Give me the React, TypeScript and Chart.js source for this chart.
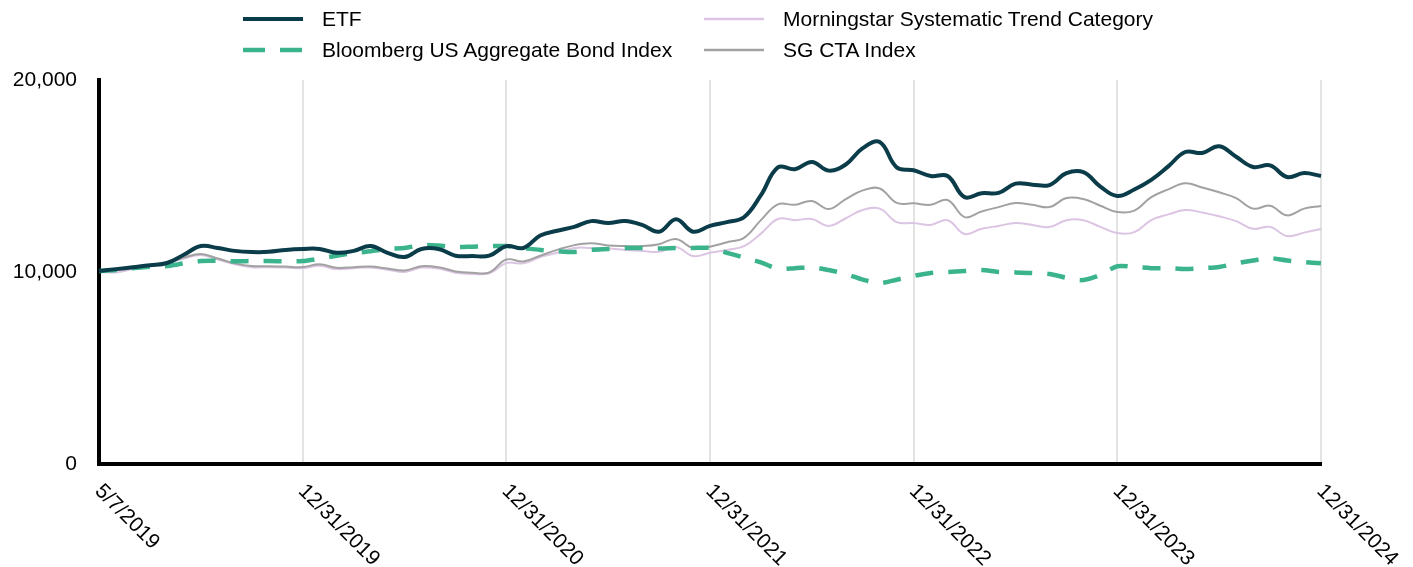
import React, { useEffect, useRef } from 'react';
import { Chart, registerables } from 'chart.js';

Chart.register(...registerables);

const FONT = '"Liberation Sans", Arial, Helvetica, sans-serif';

// Axis tick labels (one every 12 periods)
const tickLabels = ['5/7/2019', '12/31/2019', '12/31/2020', '12/31/2021', '12/31/2022', '12/31/2023', '12/31/2024'];
const PERIODS_PER_TICK = 12;

// Series values (growth of $10,000)
const etfValues = [
  10050, 10150, 10250, 10350, 10470, 10900, 11350, 11250, 11100, 11040, 11050, 11150,
  11200, 11200, 11000, 11100, 11350, 11000, 10780, 11200, 11200, 10850, 10830, 10850,
  11350, 11250, 11900, 12150, 12350, 12650, 12550, 12650, 12450, 12100, 12750, 12100,
  12400, 12600, 12850, 14000, 15450, 15350, 15730, 15280, 15600, 16450, 16770, 15450,
  15300, 15000, 15000, 13900, 14100, 14120, 14600, 14550, 14530, 15150, 15200, 14450,
  13960, 14300, 14800, 15500, 16250, 16200, 16550, 16000, 15470, 15550, 14950, 15150,
  15000,
];

const bondValues = [
  10050, 10100, 10200, 10280, 10310, 10450, 10570, 10580, 10560, 10570, 10570, 10560,
  10570, 10700, 10850, 10980, 11080, 11200, 11250, 11400, 11380, 11300, 11320, 11350,
  11350, 11250, 11150, 11080, 11040, 11150, 11200, 11250, 11250, 11230, 11250, 11250,
  11250, 11000, 10750, 10500, 10170, 10200, 10250, 10100, 9900, 9600, 9420, 9600,
  9800, 9950, 10000, 10050, 10100, 10000, 9980, 9950, 9900, 9700, 9580, 9850,
  10300, 10260, 10200, 10200, 10150, 10200, 10260, 10450, 10600, 10720, 10600, 10520,
  10450,
];

const morningstarValues = [
  10000, 9980, 10150, 10300, 10450, 10700, 10880, 10650, 10400, 10250, 10250, 10230,
  10200, 10320, 10150, 10200, 10230, 10120, 10000, 10230, 10180, 9960, 9900, 9930,
  10470, 10450, 10780, 11000, 11250, 11250, 11220, 11150, 11100, 11050, 11300, 10830,
  11000, 11150, 11350, 12000, 12760, 12700, 12760, 12400, 12800, 13230, 13300, 12600,
  12550, 12450, 12700, 11980, 12250, 12400, 12550, 12450, 12340, 12700, 12700, 12350,
  12030, 12080, 12700, 13000, 13230, 13100, 12900, 12650, 12250, 12350, 11870, 12050,
  12240,
];

const sgCtaValues = [
  10050, 10100, 10250, 10350, 10480, 10750, 10940, 10700, 10450, 10310, 10300, 10280,
  10260, 10400, 10220, 10250, 10280, 10180, 10080, 10300, 10250, 10030, 9960, 9980,
  10650, 10550, 10850, 11150, 11400, 11500, 11380, 11350, 11350, 11450, 11720, 11250,
  11320, 11550, 11780, 12700, 13520, 13500, 13700, 13280, 13800, 14250, 14350, 13600,
  13580, 13500, 13750, 12860, 13150, 13380, 13590, 13500, 13380, 13850, 13800, 13450,
  13120, 13200, 13900, 14300, 14620, 14400, 14150, 13850, 13300, 13450, 12950, 13300,
  13440,
];

const yTicks = [0, 10000, 20000];

const COLORS = {
  etf: '#0b3c49',
  bond: '#3bb48d',
  ms: '#dcc4e3',
  sg: '#a2a2a2',
};

const categories = etfValues.map((_, i) =>
  i % PERIODS_PER_TICK === 0 ? tickLabels[i / PERIODS_PER_TICK] : ''
);

function LegendItem({ left, top, color, width, dash, label }: any) {
  return (
    <div
      style={{
        position: 'absolute',
        left,
        top: top - 12,
        height: 24,
        display: 'flex',
        alignItems: 'center',
        whiteSpace: 'nowrap',
        fontFamily: FONT,
        fontSize: 21,
        color: '#000',
      }}
    >
      <svg width={60} height={8} style={{ marginRight: 19, display: 'block' }}>
        <line
          x1={0}
          y1={4}
          x2={60}
          y2={4}
          stroke={color}
          strokeWidth={width}
          strokeDasharray={dash || undefined}
        />
      </svg>
      <span>{label}</span>
    </div>
  );
}

export default function App() {
  const ref = useRef<HTMLCanvasElement>(null);

  useEffect(() => {
    if (!ref.current) return;

    const xLabelPlugin = {
      id: 'rotatedXLabels',
      afterDraw(chart: any) {
        const { ctx, chartArea } = chart;
        const x = chart.scales.x;
        ctx.save();
        ctx.font = `21px ${FONT}`;
        ctx.fillStyle = '#000';
        ctx.textAlign = 'left';
        ctx.textBaseline = 'middle';
        tickLabels.forEach((lab, i) => {
          const px = x.getPixelForValue(i * PERIODS_PER_TICK);
          ctx.save();
          ctx.translate(px - 1, chartArea.bottom + 24);
          ctx.rotate(Math.PI / 4);
          ctx.fillText(lab, 0, 0);
          ctx.restore();
        });
        ctx.restore();
      },
    };

    const chart = new Chart(ref.current, {
      type: 'line',
      data: {
        labels: categories,
        datasets: [
          {
            label: 'ETF',
            data: etfValues,
            borderColor: COLORS.etf,
            borderWidth: 4,
            pointRadius: 0,
            tension: 0.4,
            fill: false,
            order: 0,
          },
          {
            label: 'Bloomberg US Aggregate Bond Index',
            data: bondValues,
            borderColor: COLORS.bond,
            borderWidth: 4.5,
            borderDash: [18, 15],
            pointRadius: 0,
            tension: 0.3,
            fill: false,
            order: 1,
          },
          {
            label: 'Morningstar Systematic Trend Category',
            data: morningstarValues,
            borderColor: COLORS.ms,
            borderWidth: 2,
            pointRadius: 0,
            tension: 0.4,
            fill: false,
            order: 3,
          },
          {
            label: 'SG CTA Index',
            data: sgCtaValues,
            borderColor: COLORS.sg,
            borderWidth: 2,
            pointRadius: 0,
            tension: 0.4,
            fill: false,
            order: 2,
          },
        ],
      },
      options: {
        responsive: false,
        animation: false,
        devicePixelRatio: 1,
        layout: { padding: { left: 0, right: 92, top: 80, bottom: 0 } },
        plugins: {
          legend: { display: false },
          tooltip: { enabled: false },
        },
        scales: {
          x: {
            type: 'category',
            offset: false,
            ticks: { display: false, autoSkip: false },
            grid: {
              display: true,
              drawTicks: false,
              lineWidth: 2,
              color: (c: any) =>
                c.index % PERIODS_PER_TICK === 0 && c.index !== 0 ? '#e3e3e3' : 'rgba(0,0,0,0)',
            },
            border: { display: true, color: '#000', width: 4 },
            afterFit: (scale: any) => {
              scale.height = 103;
            },
          },
          y: {
            min: 0,
            max: 20000,
            afterBuildTicks: (scale: any) => {
              scale.ticks = yTicks.map((v) => ({ value: v }));
            },
            ticks: {
              font: { family: FONT, size: 21 },
              color: '#000',
              padding: 22,
              callback: (v: any) => Number(v).toLocaleString('en-US'),
            },
            grid: { display: false, drawTicks: false },
            border: { display: true, color: '#000', width: 4 },
            afterFit: (scale: any) => {
              scale.width = 99;
            },
          },
        },
      },
      plugins: [xLabelPlugin],
    });

    return () => chart.destroy();
  }, []);

  return (
    <div
      style={{
        position: 'fixed',
        left: 0,
        top: 0,
        width: 1413,
        height: 567,
        background: '#fff',
        overflow: 'hidden',
      }}
    >
      <canvas ref={ref} width={1413} height={567} style={{ position: 'absolute', left: 0, top: 0 }} />
      <LegendItem left={243} top={19} color={COLORS.etf} width={4} label="ETF" />
      <LegendItem
        left={243}
        top={50}
        color={COLORS.bond}
        width={4.5}
        dash="22 15"
        label="Bloomberg US Aggregate Bond Index"
      />
      <LegendItem left={704} top={19} color={COLORS.ms} width={2.5} label="Morningstar Systematic Trend Category" />
      <LegendItem left={704} top={50} color={COLORS.sg} width={2.5} label="SG CTA Index" />
    </div>
  );
}
